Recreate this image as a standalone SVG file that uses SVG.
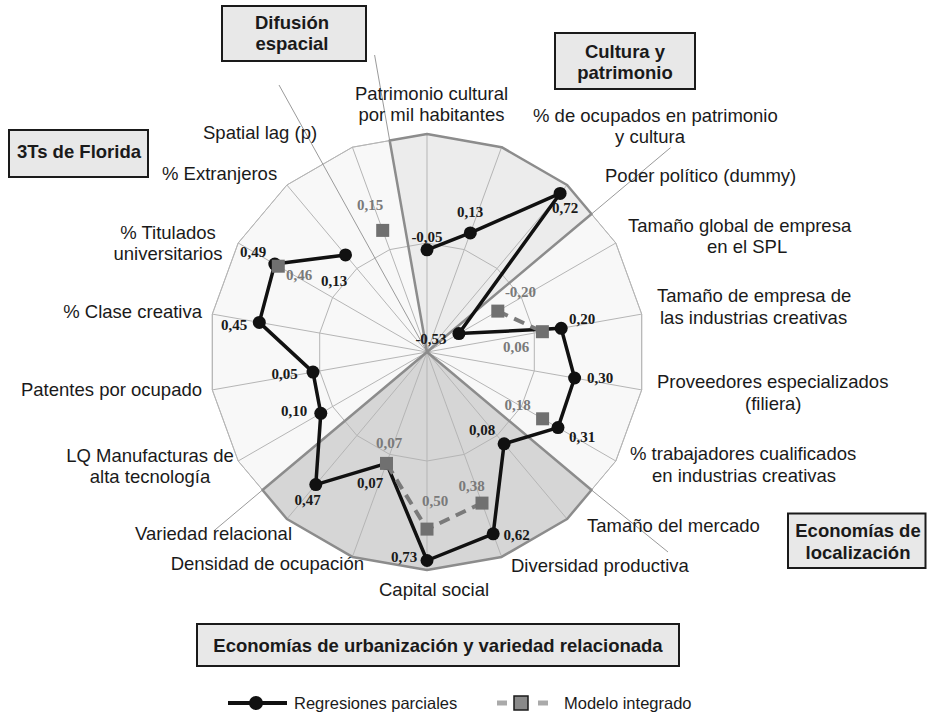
<svg xmlns="http://www.w3.org/2000/svg" width="927" height="715" viewBox="0 0 927 715">
<style>
.ax{font-family:"Liberation Sans",Arial,sans-serif;font-size:18.5px;fill:#1a1a1a}
.bx{font-family:"Liberation Sans",Arial,sans-serif;font-size:18.5px;font-weight:bold;fill:#1a1a1a;text-anchor:middle}
.box{fill:#e8e8e8;stroke:#1a1a1a;stroke-width:2}
.vb{font-family:"Liberation Serif","Times New Roman",serif;font-size:15px;font-weight:bold;fill:#1a1a1a;text-anchor:middle}
.vg{font-family:"Liberation Serif","Times New Roman",serif;font-size:15px;font-weight:bold;fill:#7a7a7a;text-anchor:middle}
.grid{fill:none;stroke:#b5b5b5;stroke-width:1}
.sect{fill:none;stroke:#8c8c8c;stroke-width:2.5;stroke-linejoin:round}
.ext{stroke:#9a9a9a;stroke-width:1}
.ser1{fill:none;stroke:#111;stroke-width:3.5;stroke-linejoin:round}
.ser2{fill:none;stroke:#7a7a7a;stroke-width:4;stroke-dasharray:11 7}
.dot{fill:#111}
.sq{fill:#707070}
.lg{font-family:"Liberation Sans",Arial,sans-serif;font-size:16.5px;fill:#1a1a1a}
</style>

<g id="chart-background">
  <polygon points="427,134 501.6,147.2 567.1,185 615.8,243 641.7,314.1 641.7,389.9 615.8,461 567.1,519 501.6,556.9 427,570 352.4,556.9 286.9,519 238.2,461 212.3,389.9 212.3,314.1 238.2,243 286.9,185 352.4,147.2" fill="#f8f8f8" stroke="#bdbdbd" stroke-width="1"/>
  <polygon points="427,352 389.7,140.6 427,134 501.6,147.2 567.1,185 591.5,214" fill="#ececec"/>
  <polygon points="427,352 591.5,490 567.1,519 501.6,556.9 427,570 352.4,556.9 286.9,519 262.5,490" fill="#d6d6d6"/>
</g>

<g id="grid">
  <polygon class="grid" points="427,243 464.3,249.6 497.1,268.5 521.4,297.5 534.3,333.1 534.3,370.9 521.4,406.5 497.1,435.5 464.3,454.4 427,461 389.7,454.4 356.9,435.5 332.6,406.5 319.7,370.9 319.7,333.1 332.6,297.5 356.9,268.5 389.7,249.6"/>
  <polygon class="grid" points="427,134 501.6,147.2 567.1,185 615.8,243 641.7,314.1 641.7,389.9 615.8,461 567.1,519 501.6,556.9 427,570 352.4,556.9 286.9,519 238.2,461 212.3,389.9 212.3,314.1 238.2,243 286.9,185 352.4,147.2"/>
  <path class="grid" d="M427,352L427,134M427,352L501.6,147.2M427,352L567.1,185M427,352L615.8,243M427,352L641.7,314.1M427,352L641.7,389.9M427,352L615.8,461M427,352L567.1,519M427,352L501.6,556.9M427,352L427,570M427,352L352.4,556.9M427,352L286.9,519M427,352L238.2,461M427,352L212.3,389.9M427,352L212.3,314.1M427,352L238.2,243M427,352L286.9,185M427,352L352.4,147.2"/>
</g>

<g id="connectors">
  <path class="ext" d="M389.7,140.6L374.6,55M591.5,214L670.6,147.6M591.5,490L668,552M262.5,490L214.4,530.4M427,352L279,85"/>
  <path class="sect" d="M427,352L389.7,140.6L427,134L501.6,147.2L567.1,185L591.5,214Z"/>
  <path class="sect" d="M427,352L591.5,490L567.1,519L501.6,556.9L427,570L352.4,556.9L286.9,519L262.5,490Z"/>
  <polyline class="ser1" points="427,249.8 470.3,232.9 560.1,193.4 458.9,333.6 561.2,328.3 574.6,378 558,427.6 504.1,443.8 493.2,533.8 427,560.5 386.5,463.4 315.8,484.6 320.8,413.3 313,372.1 259.3,322.4 274.8,264.1 345.5,254.9"/>
  <polyline class="ser2" points="497.8,311.1 542.4,331.7"/>
  <polyline class="ser2" points="482,503.1 427,529.1 386.5,463.4"/>
</g>

<g id="series-regresiones-parciales">
  <circle class="dot" cx="427" cy="249.8" r="6.5"/>
  <circle class="dot" cx="470.3" cy="232.9" r="6.5"/>
  <circle class="dot" cx="560.1" cy="193.4" r="6.5"/>
  <circle class="dot" cx="458.9" cy="333.6" r="6.5"/>
  <circle class="dot" cx="561.2" cy="328.3" r="6.5"/>
  <circle class="dot" cx="574.6" cy="378" r="6.5"/>
  <circle class="dot" cx="558" cy="427.6" r="6.5"/>
  <circle class="dot" cx="504.1" cy="443.8" r="6.5"/>
  <circle class="dot" cx="493.2" cy="533.8" r="6.5"/>
  <circle class="dot" cx="427" cy="560.5" r="6.5"/>
  <circle class="dot" cx="386.5" cy="463.4" r="6.5"/>
  <circle class="dot" cx="315.8" cy="484.6" r="6.5"/>
  <circle class="dot" cx="320.8" cy="413.3" r="6.5"/>
  <circle class="dot" cx="313" cy="372.1" r="6.5"/>
  <circle class="dot" cx="259.3" cy="322.4" r="6.5"/>
  <circle class="dot" cx="274.8" cy="264.1" r="6.5"/>
  <circle class="dot" cx="345.5" cy="254.9" r="6.5"/>
</g>

<g id="series-modelo-integrado">
  <rect class="sq" x="491.3" y="304.6" width="13" height="13"/>
  <rect class="sq" x="535.9" y="325.2" width="13" height="13"/>
  <rect class="sq" x="536.1" y="412.3" width="13" height="13"/>
  <rect class="sq" x="475.5" y="496.6" width="13" height="13"/>
  <rect class="sq" x="420.5" y="522.6" width="13" height="13"/>
  <rect class="sq" x="380" y="456.9" width="13" height="13"/>
  <rect class="sq" x="271.8" y="259.7" width="13" height="13"/>
  <rect class="sq" x="376.2" y="223.9" width="13" height="13"/>
</g>

<g id="value-labels">
  <text class="vb" x="427" y="242">-0,05</text>
  <text class="vb" x="470" y="217">0,13</text>
  <text class="vb" x="565" y="213">0,72</text>
  <text class="vb" x="431" y="344">-0,53</text>
  <text class="vg" x="520.5" y="297">-0,20</text>
  <text class="vb" x="582" y="324">0,20</text>
  <text class="vg" x="516" y="352">0,06</text>
  <text class="vb" x="600" y="383">0,30</text>
  <text class="vg" x="517.5" y="410">0,18</text>
  <text class="vb" x="582" y="442">0,31</text>
  <text class="vb" x="482" y="435">0,08</text>
  <text class="vg" x="471.5" y="491">0,38</text>
  <text class="vb" x="516.5" y="540">0,62</text>
  <text class="vg" x="435" y="506">0,50</text>
  <text class="vb" x="404" y="562">0,73</text>
  <text class="vg" x="389" y="448">0,07</text>
  <text class="vb" x="370" y="488">0,07</text>
  <text class="vb" x="307.5" y="505">0,47</text>
  <text class="vb" x="294" y="416">0,10</text>
  <text class="vb" x="284.5" y="379">0,05</text>
  <text class="vb" x="234" y="330">0,45</text>
  <text class="vb" x="253" y="257">0,49</text>
  <text class="vg" x="299" y="280">0,46</text>
  <text class="vb" x="334" y="286">0,13</text>
  <text class="vg" x="370" y="210">0,15</text>
</g>

<g id="axis-labels">
  <text class="ax" x="431.5" y="99.5" text-anchor="middle">Patrimonio cultural</text>
  <text class="ax" x="431.5" y="121" text-anchor="middle">por mil habitantes</text>
  <text class="ax" x="533" y="121.5">% de ocupados en patrimonio</text>
  <text class="ax" x="615" y="143">y cultura</text>
  <text class="ax" x="605" y="182">Poder político (dummy)</text>
  <text class="ax" x="628" y="231.5">Tamaño global de empresa</text>
  <text class="ax" x="707" y="253">en el SPL</text>
  <text class="ax" x="657" y="301.5">Tamaño de empresa de</text>
  <text class="ax" x="660" y="324">las industrias creativas</text>
  <text class="ax" x="657" y="388">Proveedores especializados</text>
  <text class="ax" x="745" y="410">(filiera)</text>
  <text class="ax" x="630" y="460">% trabajadores cualificados</text>
  <text class="ax" x="652" y="482">en industrias creativas</text>
  <text class="ax" x="587" y="531.5">Tamaño del mercado</text>
  <text class="ax" x="511" y="572">Diversidad productiva</text>
  <text class="ax" x="379" y="596">Capital social</text>
  <text class="ax" x="364" y="570" text-anchor="end">Densidad de ocupación</text>
  <text class="ax" x="292" y="540" text-anchor="end">Variedad relacional</text>
  <text class="ax" x="150" y="462" text-anchor="middle">LQ Manufacturas de</text>
  <text class="ax" x="150" y="483" text-anchor="middle">alta tecnología</text>
  <text class="ax" x="202" y="396" text-anchor="end">Patentes por ocupado</text>
  <text class="ax" x="202" y="318" text-anchor="end">% Clase creativa</text>
  <text class="ax" x="168" y="238.5" text-anchor="middle">% Titulados</text>
  <text class="ax" x="168" y="260" text-anchor="middle">universitarios</text>
  <text class="ax" x="162" y="180">% Extranjeros</text>
  <text class="ax" x="203" y="139">Spatial lag (p)</text>
</g>

<g id="box-difusion">
  <rect class="box" x="222" y="6" width="144" height="55"/>
  <text class="bx" x="292" y="29">Difusión</text>
  <text class="bx" x="292" y="50">espacial</text>
</g>
<g id="box-cultura">
  <rect class="box" x="555" y="33" width="140" height="56"/>
  <text class="bx" x="625" y="58">Cultura y</text>
  <text class="bx" x="625" y="79">patrimonio</text>
</g>
<g id="box-3ts">
  <rect class="box" x="9" y="130" width="139" height="47"/>
  <text class="bx" x="79" y="158">3Ts de Florida</text>
</g>
<g id="box-localizacion">
  <rect class="box" x="788" y="513.5" width="137.5" height="54.5"/>
  <text class="bx" x="858" y="536.5">Economías de</text>
  <text class="bx" x="858" y="559">localización</text>
</g>
<g id="box-urbanizacion">
  <rect class="box" x="197" y="624" width="482" height="42"/>
  <text class="bx" x="438" y="652">Economías de urbanización y variedad relacionada</text>
</g>

<g id="legend">
  <line x1="228" y1="703" x2="287" y2="703" stroke="#111" stroke-width="4"/>
  <circle cx="256" cy="703" r="7" fill="#111"/>
  <text class="lg" x="294" y="709">Regresiones parciales</text>
  <line x1="497" y1="703" x2="507" y2="703" stroke="#aaa" stroke-width="5"/>
  <rect x="514" y="696" width="14" height="14" fill="#8a8a8a" stroke="#1a1a1a" stroke-width="1.5"/>
  <line x1="538" y1="703" x2="548" y2="703" stroke="#aaa" stroke-width="5"/>
  <text class="lg" x="564" y="709">Modelo integrado</text>
</g>
</svg>
